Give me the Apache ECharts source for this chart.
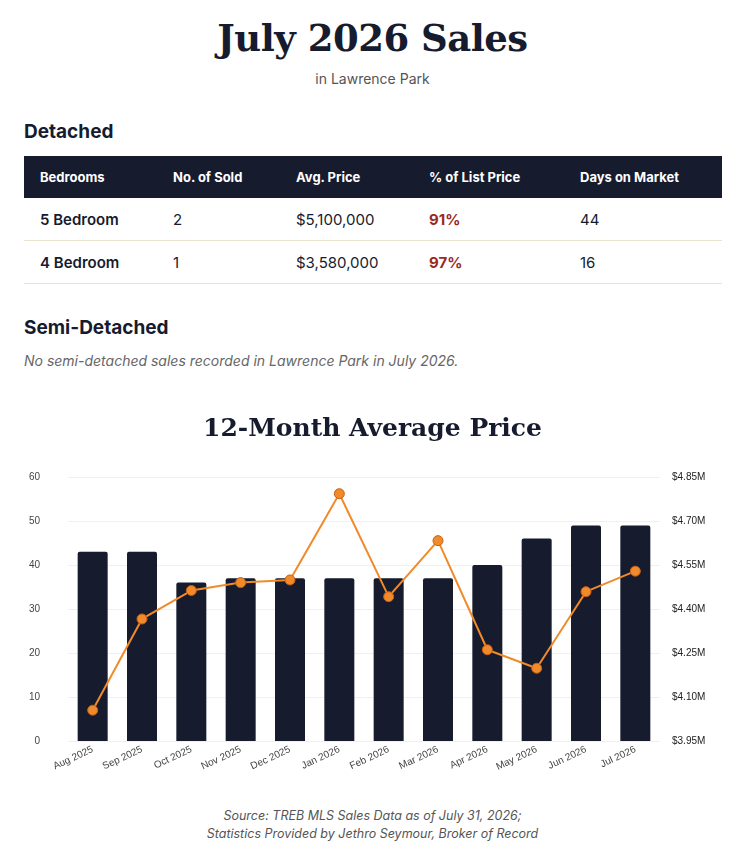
<!DOCTYPE html>
<html><head><meta charset="utf-8">
<script src="https://cdn.jsdelivr.net/npm/echarts@6/dist/echarts.min.js"></script>
<style>
body{margin:0;background:#fff;font-family:Inter,"Noto Sans",sans-serif;color:#161b2e;width:745px;height:853px;position:relative;overflow:hidden}
.abs{position:absolute}
h1{margin:0;font-family:"DejaVu Serif",Georgia,serif;font-weight:bold;font-size:37px;left:0;right:0;text-align:center;top:16px;letter-spacing:-0.5px}
.sub{left:0;right:0;text-align:center;top:70px;font-size:14px;color:#555}
h2{margin:0;font-size:19px;font-weight:700;left:24px}
table{border-collapse:collapse;left:24px;top:156px;width:698px;font-size:15px}
th{background:#161b2e;color:#fff;text-align:left;font-size:13px;font-weight:700;height:42px;padding:0 0 0 16px}
td{height:42px;padding:0 0 0 16px;border-bottom:1px solid #ece3cf}
td.b{font-weight:600}
td.r{color:#9b2a22;font-weight:700}
.note{left:24px;top:352px;font-style:italic;color:#666;font-size:14px}
#chart{left:0;top:400px;width:745px;height:400px}
.foot{left:0;right:0;top:807px;text-align:center;font-style:italic;color:#555;font-size:12.5px;line-height:18px}
</style></head><body>
<h1 class="abs">July 2026 Sales</h1>
<div class="abs sub">in Lawrence Park</div>
<h2 class="abs" style="top:120px">Detached</h2>
<table class="abs">
<tr><th style="width:117px">Bedrooms</th><th style="width:107px">No. of Sold</th><th style="width:117px">Avg. Price</th><th style="width:135px">% of List Price</th><th>Days on Market</th></tr>
<tr><td class="b">5 Bedroom</td><td>2</td><td>$5,100,000</td><td class="r">91%</td><td>44</td></tr>
<tr><td class="b">4 Bedroom</td><td>1</td><td>$3,580,000</td><td class="r">97%</td><td>16</td></tr>
</table>
<h2 class="abs" style="top:316px">Semi-Detached</h2>
<div class="abs note">No semi-detached sales recorded in Lawrence Park in July 2026.</div>
<div id="chart" class="abs"></div>
<div class="abs foot">Source: TREB MLS Sales Data as of July 31, 2026;<br>Statistics Provided by Jethro Seymour, Broker of Record</div>
<script>
var months = ['Aug 2025','Sep 2025','Oct 2025','Nov 2025','Dec 2025','Jan 2026','Feb 2026','Mar 2026','Apr 2026','May 2026','Jun 2026','Jul 2026'];
var salesCount = [43, 43, 36, 37, 37, 37, 37, 37, 40, 46, 49, 49];
var avgPrice = [4055000, 4366000, 4463000, 4490000, 4499000, 4793000, 4442000, 4633000, 4261000, 4198000, 4459000, 4529000];

var chart = echarts.init(document.getElementById('chart'));
chart.setOption({
  animation: false,
  title: {
    text: '12-Month Average Price', left: 'center', top: 12,
    textStyle: { fontFamily: 'DejaVu Serif', fontWeight: 'bold', fontSize: 25, color: '#161b2e' }
  },
  grid: { left: 68, right: 85, top: 77, bottom: 59 },
  xAxis: {
    type: 'category', data: months,
    axisLine: { show: false }, axisTick: { show: false },
    axisLabel: { rotate: 25, fontSize: 10, color: '#444', margin: 8 }
  },
  yAxis: [{
    type: 'value', min: 0, max: 60, interval: 10,
    axisLabel: { fontSize: 10, color: '#444', margin: 28 },
    splitLine: { lineStyle: { color: '#f0f0f0' } }
  }, {
    type: 'value', min: 3950000, max: 4850000, interval: 150000,
    axisLabel: { fontSize: 10, color: '#222', margin: 12, formatter: function (v) { return '$' + (v / 1e6).toFixed(2) + 'M'; } },
    splitLine: { show: false }
  }],
  series: [{
    type: 'bar', data: salesCount, barWidth: 30,
    itemStyle: { color: '#161b2e', borderRadius: [2, 2, 0, 0] }
  }, {
    type: 'line', yAxisIndex: 1, data: avgPrice,
    symbol: 'circle', symbolSize: 10,
    lineStyle: { color: '#f08a2a', width: 2 },
    itemStyle: { color: '#f08a2a', borderColor: '#c85f12', borderWidth: 1 }
  }]
});
</script>
</body></html>
